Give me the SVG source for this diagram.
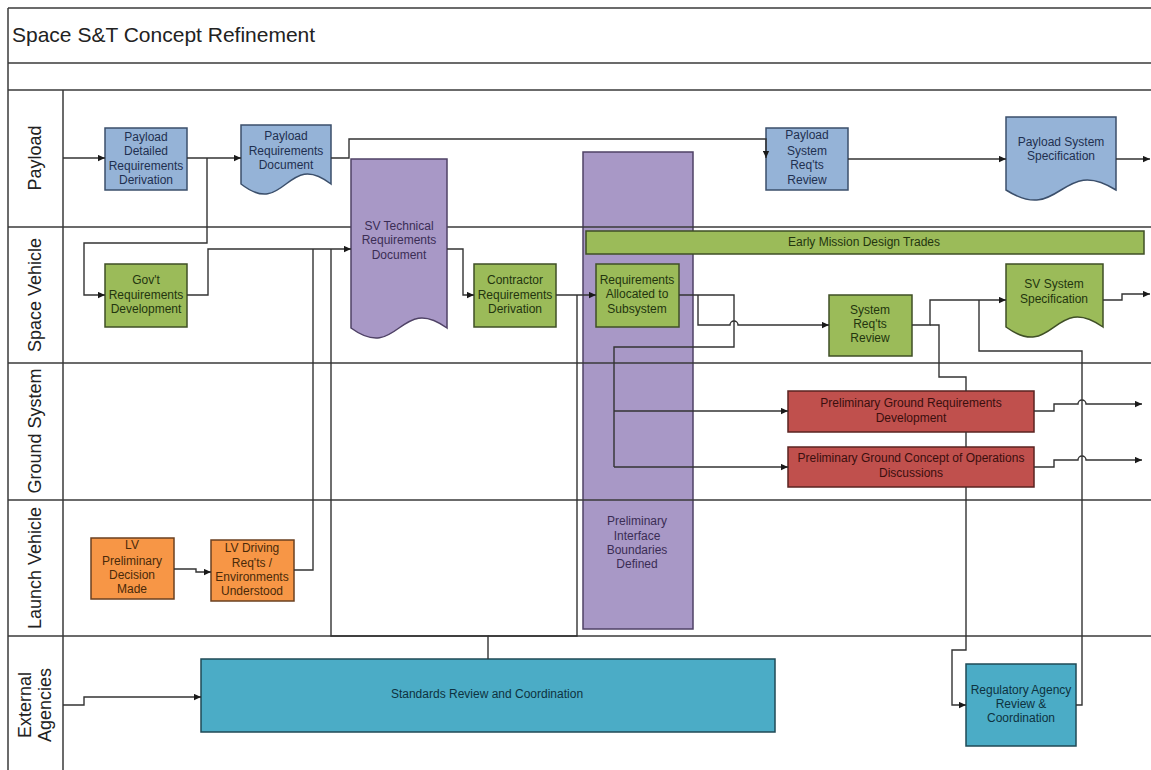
<svg xmlns="http://www.w3.org/2000/svg" width="1151" height="770" viewBox="0 0 1151 770">
<style>
  .frame{stroke:#3a3a3a;stroke-width:1.5;fill:none}
  .lane{font-family:"Liberation Sans",Arial,sans-serif;font-size:18px;fill:#222;text-anchor:middle}
  .title{font-family:"Liberation Sans",Arial,sans-serif;font-size:21px;fill:#222}
  .t{font-family:"Liberation Sans",Arial,sans-serif;font-size:12px;text-anchor:middle}
  .blue{fill:#95b3d7;stroke:#3b4f6b;stroke-width:1.5}
  .blue-t{fill:#1f3050}
  .green{fill:#9bbb59;stroke:#3f4f26;stroke-width:1.5}
  .green-t{fill:#23350f}
  .purple{fill:#a898c6;stroke:#4f4266;stroke-width:1.5}
  .purple-t{fill:#3b2d55}
  .red{fill:#c0504d;stroke:#5a2321;stroke-width:1.5}
  .red-t{fill:#3a0f0e}
  .orange{fill:#f79646;stroke:#6b4020;stroke-width:1.5}
  .orange-t{fill:#4a2a0a}
  .teal{fill:#4bacc6;stroke:#1f4a56;stroke-width:1.5}
  .teal-t{fill:#0e3240}
  .c{fill:none;stroke:#333;stroke-width:1.4}
</style>
<defs>
  <marker id="ah" viewBox="0 0 10 10" refX="10" refY="5" markerWidth="8" markerHeight="7" orient="auto" markerUnits="userSpaceOnUse">
    <path d="M0,0.5 L10,5 L0,9.5 z" fill="#1a1a1a"/>
  </marker>
</defs>
<rect x="0" y="0" width="1151" height="770" fill="#ffffff"/>

<!-- big purple column drawn under the lane lines -->
<g id="interface-boundaries">
  <rect class="purple" x="583" y="152" width="110" height="477"/>
  <text class="t purple-t" x="637" y="525">Preliminary</text>
  <text class="t purple-t" x="637" y="540">Interface</text>
  <text class="t purple-t" x="637" y="554">Boundaries</text>
  <text class="t purple-t" x="637" y="568">Defined</text>
</g>

<g id="frame">
  <line class="frame" x1="8" y1="8" x2="1151" y2="8"/>
  <line class="frame" x1="8" y1="8" x2="8" y2="770"/>
  <line class="frame" x1="8" y1="63" x2="1151" y2="63"/>
  <line class="frame" x1="8" y1="90" x2="1151" y2="90"/>
  <line class="frame" x1="8" y1="227" x2="1151" y2="227"/>
  <line class="frame" x1="8" y1="363" x2="1151" y2="363"/>
  <line class="frame" x1="8" y1="500" x2="1151" y2="500"/>
  <line class="frame" x1="8" y1="636" x2="1151" y2="636"/>
  <line class="frame" x1="63" y1="90" x2="63" y2="770"/>
  <text class="title" x="12" y="42">Space S&amp;T Concept Refinement</text>
  <text class="lane" transform="translate(41,158) rotate(-90)">Payload</text>
  <text class="lane" transform="translate(41,295) rotate(-90)">Space Vehicle</text>
  <text class="lane" transform="translate(41,431) rotate(-90)">Ground System</text>
  <text class="lane" transform="translate(41,568) rotate(-90)">Launch Vehicle</text>
  <text class="lane" transform="translate(31,705) rotate(-90)">External</text>
  <text class="lane" transform="translate(51,705) rotate(-90)">Agencies</text>
</g>

<g id="payload-detailed">
  <rect class="blue" x="105" y="128" width="82" height="62"/>
  <text class="t blue-t" x="146" y="141">Payload</text>
  <text class="t blue-t" x="146" y="155">Detailed</text>
  <text class="t blue-t" x="146" y="170">Requirements</text>
  <text class="t blue-t" x="146" y="184">Derivation</text>
</g>
<g id="payload-req-doc">
  <path class="blue" d="M241,125 H331 V184 C286,149 286,219 241,184 Z"/>
  <text class="t blue-t" x="286" y="140">Payload</text>
  <text class="t blue-t" x="286" y="155">Requirements</text>
  <text class="t blue-t" x="286" y="169">Document</text>
</g>
<g id="sv-tech-doc">
  <path class="purple" d="M351,159 H447 V328 C399,293 399,363 351,328 Z"/>
  <text class="t purple-t" x="399" y="230">SV Technical</text>
  <text class="t purple-t" x="399" y="244">Requirements</text>
  <text class="t purple-t" x="399" y="259">Document</text>
</g>
<g id="payload-sys-review">
  <rect class="blue" x="766" y="128" width="82" height="62"/>
  <text class="t blue-t" x="807" y="139">Payload</text>
  <text class="t blue-t" x="807" y="155">System</text>
  <text class="t blue-t" x="807" y="169">Req'ts</text>
  <text class="t blue-t" x="807" y="184">Review</text>
</g>
<g id="payload-sys-spec">
  <path class="blue" d="M1006,117 H1116 V190 C1061,155 1061,225 1006,190 Z"/>
  <text class="t blue-t" x="1061" y="146">Payload System</text>
  <text class="t blue-t" x="1061" y="160">Specification</text>
</g>
<g id="early-mission">
  <rect class="green" x="586" y="231" width="558" height="23"/>
  <text class="t green-t" x="864" y="246">Early Mission Design Trades</text>
</g>
<g id="govt-req">
  <rect class="green" x="105" y="264" width="82" height="63"/>
  <text class="t green-t" x="146" y="284">Gov't</text>
  <text class="t green-t" x="146" y="299">Requirements</text>
  <text class="t green-t" x="146" y="313">Development</text>
</g>
<g id="contractor-req">
  <rect class="green" x="474" y="264" width="82" height="63"/>
  <text class="t green-t" x="515" y="284">Contractor</text>
  <text class="t green-t" x="515" y="299">Requirements</text>
  <text class="t green-t" x="515" y="313">Derivation</text>
</g>
<g id="req-allocated">
  <rect class="green" x="596" y="264" width="83" height="63"/>
  <text class="t green-t" x="637" y="284">Requirements</text>
  <text class="t green-t" x="637" y="298">Allocated to</text>
  <text class="t green-t" x="637" y="313">Subsystem</text>
</g>
<g id="system-review">
  <rect class="green" x="829" y="295" width="83" height="61"/>
  <text class="t green-t" x="870" y="314">System</text>
  <text class="t green-t" x="870" y="328">Req'ts</text>
  <text class="t green-t" x="870" y="342">Review</text>
</g>
<g id="sv-sys-spec">
  <path class="green" d="M1006,264 H1103 V327 C1054,292 1054,362 1006,327 Z"/>
  <text class="t green-t" x="1054" y="288">SV System</text>
  <text class="t green-t" x="1054" y="303">Specification</text>
</g>
<g id="ground-req">
  <rect class="red" x="788" y="391" width="246" height="41"/>
  <text class="t red-t" x="911" y="407">Preliminary Ground Requirements</text>
  <text class="t red-t" x="911" y="422">Development</text>
</g>
<g id="ground-conops">
  <rect class="red" x="788" y="447" width="246" height="40"/>
  <text class="t red-t" x="911" y="462">Preliminary Ground Concept of Operations</text>
  <text class="t red-t" x="911" y="477">Discussions</text>
</g>
<g id="lv-decision">
  <rect class="orange" x="91" y="538" width="83" height="61"/>
  <text class="t orange-t" x="132" y="549">LV</text>
  <text class="t orange-t" x="132" y="565">Preliminary</text>
  <text class="t orange-t" x="132" y="579">Decision</text>
  <text class="t orange-t" x="132" y="593">Made</text>
</g>
<g id="lv-driving">
  <rect class="orange" x="211" y="540" width="83" height="61"/>
  <text class="t orange-t" x="252" y="552">LV Driving</text>
  <text class="t orange-t" x="252" y="567">Req'ts /</text>
  <text class="t orange-t" x="252" y="581">Environments</text>
  <text class="t orange-t" x="252" y="595">Understood</text>
</g>
<g id="standards">
  <rect class="teal" x="201" y="659" width="574" height="73"/>
  <text class="t teal-t" x="487" y="698">Standards Review and Coordination</text>
</g>
<g id="regulatory">
  <rect class="teal" x="966" y="664" width="110" height="82"/>
  <text class="t teal-t" x="1021" y="694">Regulatory Agency</text>
  <text class="t teal-t" x="1021" y="708">Review &amp;</text>
  <text class="t teal-t" x="1021" y="722">Coordination</text>
</g>

<g id="connectors">
  <path class="c" marker-end="url(#ah)" d="M63,158 H105"/>
  <path class="c" marker-end="url(#ah)" d="M187,158 H241"/>
  <path class="c" marker-end="url(#ah)" d="M207,158 V243 H84 V295 H105"/>
  <path class="c" marker-end="url(#ah)" d="M187,295 H208 V249 H351"/>
  <path class="c" marker-end="url(#ah)" d="M331,158 H349 V139 H766 V158"/>
  <path class="c" marker-end="url(#ah)" d="M848,159 H1006"/>
  <path class="c" marker-end="url(#ah)" d="M1116,159 H1150"/>
  <path class="c" d="M294,570 H313 V249"/>
  <path class="c" d="M488,659 V636 H331 V249"/>
  <path class="c" d="M488,636 H577 V295"/>
  <path class="c" marker-end="url(#ah)" d="M447,249 H463 V295 H474"/>
  <path class="c" marker-end="url(#ah)" d="M556,295 H596"/>
  <path class="c" d="M679,295 H734 V347 H614 V467"/>
  <path class="c" marker-end="url(#ah)" d="M614,411 H788"/>
  <path class="c" marker-end="url(#ah)" d="M614,467 H788"/>
  <path class="c" marker-end="url(#ah)" d="M698,295 V325 H730 A4,4 0 0 1 738,325 H829"/>
  <path class="c" marker-end="url(#ah)" d="M912,325 H930 V300 H1006"/>
  <path class="c" d="M930,325 H939 V377 H966 V391"/>
  <path class="c" d="M966,432 V447"/>
  <path class="c" marker-end="url(#ah)" d="M966,487 V650 H952 V705 H966"/>
  <path class="c" d="M979,300 V351 H1082 V705 H1076"/>
  <path class="c" marker-end="url(#ah)" d="M1103,300 H1122 V294 H1150"/>
  <path class="c" marker-end="url(#ah)" d="M1034,411 H1054 V404 H1078 A4,4 0 0 1 1086,404 H1142"/>
  <path class="c" marker-end="url(#ah)" d="M1034,467 H1054 V460 H1078 A4,4 0 0 1 1086,460 H1142"/>
  <path class="c" marker-end="url(#ah)" d="M174,569 H196 V572 H211"/>
  <path class="c" marker-end="url(#ah)" d="M63,705 H84 V697 H201"/>
</g>
</svg>
